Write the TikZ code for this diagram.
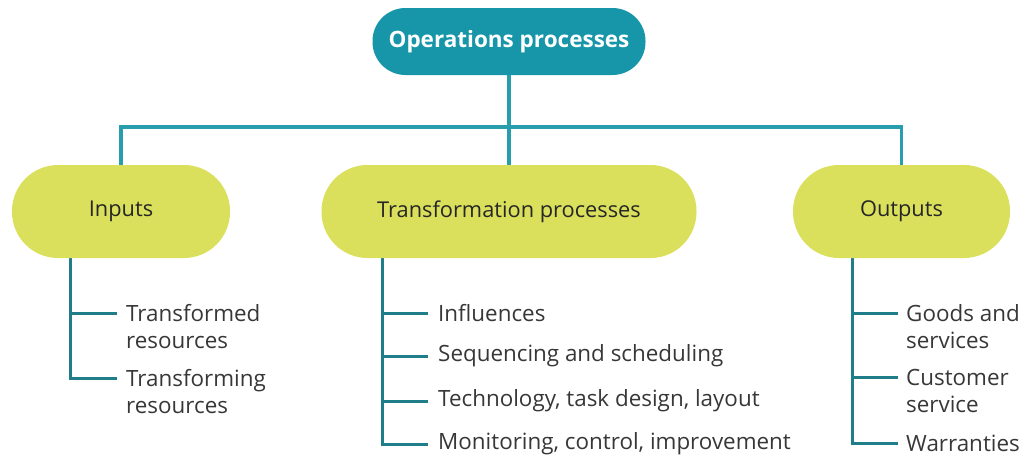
\documentclass[tikz,border=0pt]{standalone}
\usepackage{fontspec}
\setmainfont{Open Sans}
\usetikzlibrary{calc,backgrounds}
\definecolor{opteal}{RGB}{22,150,168}
\definecolor{linkteal}{RGB}{40,158,172}
\definecolor{stagelime}{RGB}{218,224,92}
\definecolor{leafgray}{RGB}{55,55,55}
\begin{document}
\begin{tikzpicture}[x=1pt,y=-1pt,
  rootbox/.style={fill=opteal,text=white,font=\fontsize{22.5}{26}\selectfont\bfseries,
    rounded corners=33pt,minimum width=273pt,minimum height=67pt,inner sep=0pt},
  stagebox/.style={fill=stagelime,text=black!85,font=\fontsize{21.8}{26}\selectfont,
    rounded corners=46pt,minimum height=93pt,inner sep=0pt},
  leaf/.style={anchor=west,inner sep=0pt,align=left,text=leafgray,
    font=\fontsize{22.4}{27}\selectfont},
  link/.style={draw=linkteal,line width=3.2pt},
  twig/.style={draw=linkteal!80!black,line width=3pt}]
\useasboundingbox (0,0) rectangle (1024,458);

% main boxes
\node[rootbox] (root) at (509,41.5) {Operations processes};
\node[stagebox,minimum width=218pt] (inp) at (121,211.5) {Inputs};
\node[stagebox,minimum width=375pt] (trf) at (509,211.5) {Transformation processes};
\node[stagebox,minimum width=217pt] (outp) at (901.5,211.5) {Outputs};

% bus joining the root to the three stages
\coordinate (bus) at (509,127);

% leaves: inputs
\node[leaf] (in1) at (126,326.5) {Transformed\\resources};
\node[leaf] (in2) at (126,391.5) {Transforming\\resources};
% leaves: transformation
\node[leaf] (tr1) at (438,313) {Influences};
\node[leaf] (tr2) at (438,356) {Sequencing and scheduling};
\node[leaf] (tr3) at (438,401) {Technology, task design, layout};
\node[leaf] (tr4) at (438,444) {Monitoring, control, improvement};
% leaves: outputs
\node[leaf] (ou1) at (906,326.5) {Goods and\\services};
\node[leaf] (ou2) at (906,390.5) {Customer\\service};
\node[leaf] (ou3) at (906,443) {Warranties};

% trunk tops, hidden just inside each stage box
\coordinate (inT) at (70,250);
\coordinate (trT) at (382,250);
\coordinate (ouT) at (852,250);

\begin{scope}[on background layer]
\draw[link] (root.south) -- (trf.north);
\draw[link] (inp.north) |- (bus) -| (outp.north);

\draw[twig] (inT) |- ($(in1.west)+(-9pt,13.5pt)$);
\draw[twig] (inT) |- ($(in2.west)+(-9pt,13.5pt)$);
\draw[twig] (trT) |- ($(tr1.west)+(-10pt,0pt)$);
\draw[twig] (trT) |- ($(tr2.west)+(-10pt,0pt)$);
\draw[twig] (trT) |- ($(tr3.west)+(-10pt,0pt)$);
\draw[twig] (trT) |- ($(tr4.west)+(-10pt,0pt)$);
\draw[twig] (ouT) |- ($(ou1.west)+(-8pt,13.5pt)$);
\draw[twig] (ouT) |- ($(ou2.west)+(-8pt,13.5pt)$);
\draw[twig] (ouT) |- ($(ou3.west)+(-8pt,0pt)$);
\end{scope}
\end{tikzpicture}
\end{document}
